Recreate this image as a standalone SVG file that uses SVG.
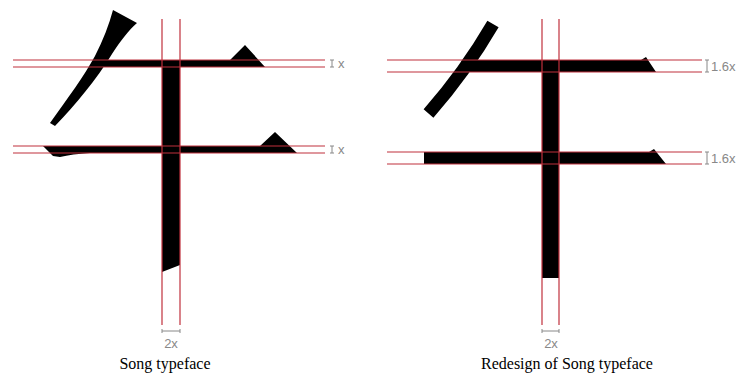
<svg xmlns="http://www.w3.org/2000/svg" width="739" height="376" viewBox="0 0 739 376">
<style>
.ink{fill:#000}
.grid{stroke:#c0303c;stroke-width:1.2;fill:none}
.dim{stroke:#888;stroke-width:1;fill:none}
.lbl{font-family:"Liberation Sans",Arial,sans-serif;font-size:13px;fill:#888}
.cap{font-family:"Liberation Serif","Times New Roman",serif;font-size:16px;fill:#000;text-anchor:middle}
</style>
<rect width="739" height="376" fill="#fff"/>
<g id="song">
  <path class="ink" d="M113,10 L137,23 C129,30 121,40 112,54 C96,80 76,104 55,126 L50,123 C68,98 84,76 95,56 C103,40 109,25 113,10 Z"/>
  <path class="ink" d="M94,60 L230,60 L245,45 L265,67 L92,67 Z"/>
  <path class="ink" d="M43,146 L260,146 L275,132 L297,153 L90,153 Q72,154 60,157 L53,156 Z"/>
  <path class="ink" d="M162,67 L180,67 L180,265 L162,272 Z"/>
  <g class="grid">
    <line x1="162" y1="19" x2="162" y2="325"/>
    <line x1="180" y1="19" x2="180" y2="325"/>
    <line x1="13" y1="60" x2="325" y2="60"/>
    <line x1="13" y1="67" x2="325" y2="67"/>
    <line x1="13" y1="146" x2="325" y2="146"/>
    <line x1="13" y1="153" x2="325" y2="153"/>
  </g>
  <g class="dim">
    <path d="M332,60 V67 M330,60 H334 M330,67 H334"/>
    <path d="M332,146 V153 M330,146 H334 M330,153 H334"/>
    <path d="M162,331 H180 M162,329 V333 M180,329 V333"/>
  </g>
  <text class="lbl" x="338" y="68">x</text>
  <text class="lbl" x="338" y="154">x</text>
  <text class="lbl" x="171" y="348" text-anchor="middle">2x</text>
  <text class="cap" x="165" y="369">Song typeface</text>
</g>
<g id="redesign">
  <path class="ink" d="M462,60 L641,60 L646,57 L656,72 L458,72 Z"/>
  <path d="M493,24 Q465,72 428.5,113.5" stroke="#000" stroke-width="13" fill="none"/>
  <path class="ink" d="M424,152 L649,152 L654,149 L666,164 L424,164 Z"/>
  <rect class="ink" x="542" y="72" width="17" height="206"/>
  <g class="grid">
    <line x1="542" y1="19" x2="542" y2="325"/>
    <line x1="559" y1="19" x2="559" y2="325"/>
    <line x1="387" y1="60" x2="702" y2="60"/>
    <line x1="387" y1="72" x2="702" y2="72"/>
    <line x1="387" y1="152" x2="702" y2="152"/>
    <line x1="387" y1="164" x2="702" y2="164"/>
  </g>
  <g class="dim">
    <path d="M707,60 V72 M705,60 H709 M705,72 H709"/>
    <path d="M707,152 V164 M705,152 H709 M705,164 H709"/>
    <path d="M542,331 H559 M542,329 V333 M559,329 V333"/>
  </g>
  <text class="lbl" x="711" y="71">1.6x</text>
  <text class="lbl" x="711" y="163">1.6x</text>
  <text class="lbl" x="551" y="348" text-anchor="middle">2x</text>
  <text class="cap" x="567" y="369">Redesign of Song typeface</text>
</g>
</svg>
